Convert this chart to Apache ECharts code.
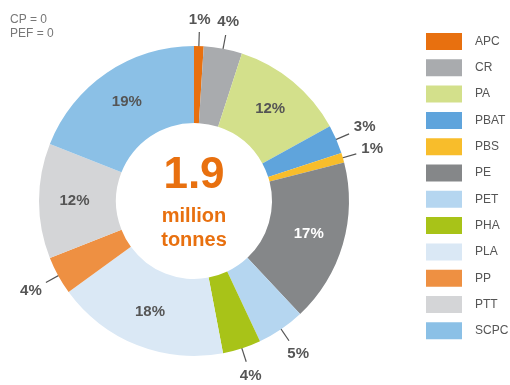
<!DOCTYPE html>
<html><head><meta charset="utf-8">
<script src="https://cdn.jsdelivr.net/npm/echarts@6/dist/echarts.min.js"></script>
<style>html,body{margin:0;padding:0;background:#fff}#c{width:510px;height:385px}</style>
</head><body><div id="c"></div>
<script>
const categories = ['APC','CR','PA','PBAT','PBS','PE','PET','PHA','PLA','PP','PTT','SCPC'];
const shares = [1,4,12,3,1,17,5,4,18,4,12,19];
const colors = ['#E8700F','#A9ABAE','#D3E08B','#5FA4DC','#F8BD2B','#858789','#B5D6F0','#A8C318','#DAE8F5','#EE9042','#D4D5D7','#8BC0E6'];
const outsideLabels = ['APC','CR','PBAT','PBS','PET','PHA','PP'];
const whiteLabels = ['PE'];
const noteLines = ['CP = 0','PEF = 0'];
const centerValue = '1.9';
const centerUnit = ['million','tonnes'];

const FONT = '"Liberation Sans", Arial, sans-serif';
const chart = echarts.init(document.getElementById('c'), null, {renderer:'canvas'});
const isOut = categories.map(c => outsideLabels.includes(c));

const data = categories.map((name, i) => ({
  name, value: shares[i],
  itemStyle: {color: colors[i]},
  label: {position: isOut[i] ? 'outside' : 'inside', color: whiteLabels.includes(name) ? '#ffffff' : '#555555'},
  labelLine: {show: isOut[i]}
}));

chart.setOption({
  animation: false,
  title: {text: noteLines.join('\n'), left: 5, top: 8,
    textStyle: {fontSize: 12, fontWeight: 'normal', color: '#777', fontFamily: FONT, lineHeight: 14}},
  legend: {
    orient: 'vertical', left: 421, top: 28, data: categories,
    icon: 'rect', itemWidth: 36, itemHeight: 17, itemGap: 9.3,
    textStyle: {fontSize: 12, color: '#555', fontFamily: FONT, padding: [0,0,0,8]},
    selectedMode: false
  },
  graphic: [
    {type:'text', x:194, y:176, style:{text:centerValue, fill:'#E8700F', font:'bold 44px ' + FONT, textAlign:'center', textVerticalAlign:'middle'}},
    {type:'text', x:194, y:216, style:{text:centerUnit[0], fill:'#E8700F', font:'bold 20px ' + FONT, textAlign:'center', textVerticalAlign:'middle'}},
    {type:'text', x:194, y:240, style:{text:centerUnit[1], fill:'#E8700F', font:'bold 20px ' + FONT, textAlign:'center', textVerticalAlign:'middle'}}
  ],
  series: [{
    type: 'pie', center: [194, 201], radius: [78, 155], startAngle: 90, clockwise: true,
    avoidLabelOverlap: false, silent: true,
    label: {formatter: '{c}%', fontSize: 15, fontWeight: 'bold', fontFamily: FONT, color: '#555'},
    labelLine: {length: 14, length2: 0, lineStyle: {color: '#555', width: 1.2}},
    labelLayout: function (p) {
      if (!isOut[p.dataIndex] || !p.labelLinePoints) return {};
      const a = p.labelLinePoints[0], b = p.labelLinePoints[1];
      const dx = b[0]-a[0], dy = b[1]-a[1];
      const len = Math.hypot(dx, dy) || 1;
      const ux = dx/len, uy = dy/len;
      const w = p.labelRect.width, h = p.labelRect.height;
      const off = 4 + Math.abs(ux)*w/2 + Math.abs(uy)*h/2;
      return {
        x: b[0] + ux*off, y: b[1] + uy*off, align: 'center', verticalAlign: 'middle',
        labelLinePoints: [[a[0]-ux*10, a[1]-uy*10], b, b]
      };
    },
    data
  }]
});
</script></body></html>
